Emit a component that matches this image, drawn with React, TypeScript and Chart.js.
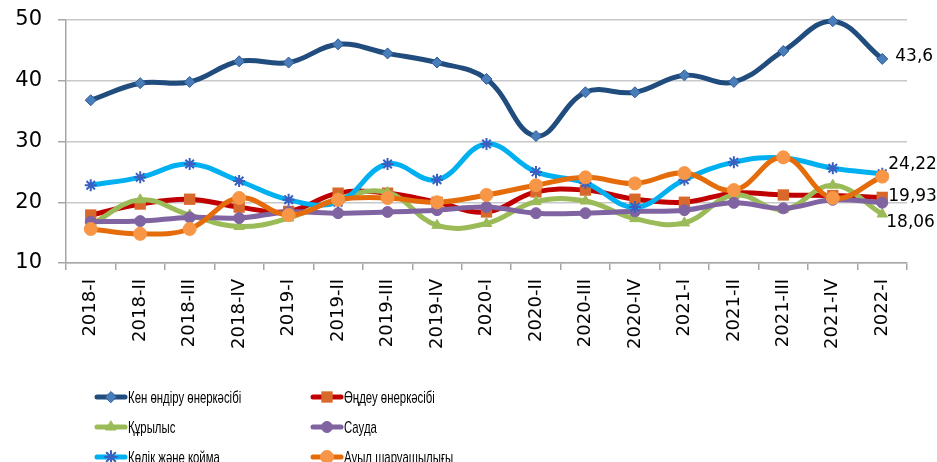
import React, { useEffect, useRef } from 'react';
import { Chart, registerables } from 'chart.js';
import { drawPoint } from 'chart.js/helpers';

Chart.register(...registerables);

const categories = [
  '2018-I', '2018-II', '2018-III', '2018-IV',
  '2019-I', '2019-II', '2019-III', '2019-IV',
  '2020-I', '2020-II', '2020-III', '2020-IV',
  '2021-I', '2021-II', '2021-III', '2021-IV',
  '2022-I',
];

const seriesNames = [
  'Кен өндіру өнеркәсібі',
  'Өңдеу өнеркәсібі',
  'Құрылыс',
  'Сауда',
  'Көлік және қойма',
  'Ауыл шаруашылығы',
];

const kenValues = [36.8, 39.6, 39.8, 43.2, 43.0, 46.0, 44.5, 43.0, 40.3, 30.9, 38.1, 38.1, 40.9, 39.8, 44.9, 49.8, 43.6];
const ondeuValues = [17.9, 19.7, 20.5, 19.2, 18.5, 21.5, 21.5, 20.0, 18.4, 21.7, 22.0, 20.5, 20.0, 21.5, 21.2, 21.1, 20.8];
const qurylysValues = [16.3, 20.4, 17.9, 16.0, 17.4, 20.6, 21.6, 16.2, 16.5, 20.1, 20.2, 17.3, 16.6, 21.2, 18.8, 22.8, 18.06];
const saudaValues = [16.8, 16.9, 17.5, 17.4, 18.4, 18.2, 18.4, 18.7, 19.2, 18.2, 18.2, 18.5, 18.7, 19.9, 19.0, 20.4, 19.93];
const kolikValues = [22.8, 24.1, 26.3, 23.5, 20.4, 20.0, 26.3, 23.7, 29.6, 25.0, 23.2, 19.2, 23.7, 26.6, 27.3, 25.6, 24.7];
const auylValues = [15.6, 14.8, 15.6, 20.7, 17.9, 20.4, 20.7, 20.0, 21.2, 22.8, 24.1, 23.1, 24.8, 22.0, 27.4, 20.7, 24.22];

const yTicks = [10, 20, 30, 40, 50];

const seriesValues = [kenValues, ondeuValues, qurylysValues, saudaValues, kolikValues, auylValues];

const seriesStyles = [
  { line: '#214C7E', fill: '#4A7EBB', border: '#2E5C94', point: 'rectRot', radius: 5.5, bw: 1 },
  { line: '#C00000', fill: '#D8692A', border: '#D8692A', point: 'rect', radius: 8, bw: 0 },
  { line: '#9BBB59', fill: '#9BBB59', border: '#9BBB59', point: 'triangle', radius: 6, bw: 1 },
  { line: '#8064A2', fill: '#8064A2', border: '#8064A2', point: 'circle', radius: 5.5, bw: 1 },
  { line: '#00B0F0', fill: '#3A5FC0', border: '#3A5FC0', point: 'star', radius: 6, bw: 2 },
  { line: '#E46C0A', fill: '#F79646', border: '#F79646', point: 'circle', radius: 6.5, bw: 1 },
];

// end-of-series value labels: dataset index and small nudge
const endLabels = [
  { ds: 0, dx: 13, dy: -2 },
  { ds: 5, dx: 6, dy: -12 },
  { ds: 3, dx: 6, dy: -6 },
  { ds: 2, dx: 4, dy: 9 },
];

const fmt = (v: number) => String(v).replace('.', ',');

const endLabelPlugin = {
  id: 'endLabels',
  afterDatasetsDraw(chart: any) {
    const ctx = chart.ctx;
    ctx.save();
    ctx.font = '17px "DejaVu Sans"';
    ctx.fillStyle = '#000';
    ctx.textAlign = 'left';
    ctx.textBaseline = 'middle';
    endLabels.forEach((l) => {
      const meta = chart.getDatasetMeta(l.ds);
      const last = meta.data.length - 1;
      const pt = meta.data[last];
      const v = chart.data.datasets[l.ds].data[last];
      ctx.fillText(fmt(v), pt.x + l.dx, pt.y + l.dy);
    });
    ctx.restore();
  },
};

const legendPlugin = {
  id: 'gridLegend',
  afterDraw(chart: any) {
    const ctx = chart.ctx;
    const colX = [95, 311];
    const rowY = [397, 427, 457];
    ctx.save();
    seriesNames.forEach((name, i) => {
      const st = seriesStyles[i];
      const x = colX[i % 2];
      const y = rowY[Math.floor(i / 2)];
      ctx.strokeStyle = st.line;
      ctx.lineWidth = 5;
      ctx.lineCap = 'round';
      ctx.beginPath();
      ctx.moveTo(x + 2, y);
      ctx.lineTo(x + 30, y);
      ctx.stroke();
      ctx.fillStyle = st.fill;
      ctx.strokeStyle = st.border;
      ctx.lineWidth = st.bw;
      drawPoint(ctx, { pointStyle: st.point, radius: st.radius, rotation: 0, borderWidth: st.bw }, x + 16, y);
      ctx.fillStyle = '#000';
      ctx.font = '17px "Liberation Sans"';
      ctx.textAlign = 'left';
      ctx.textBaseline = 'middle';
      const w = ctx.measureText(name).width;
      ctx.fillText(name, x + 33, y + 1, w * 0.67);
    });
    ctx.restore();
  },
};

export default function App() {
  const ref = useRef<HTMLCanvasElement>(null);

  useEffect(() => {
    if (!ref.current) return;
    const datasets = seriesNames.map((name, i) => {
      const st = seriesStyles[i];
      return {
        label: name,
        data: seriesValues[i],
        borderColor: st.line,
        borderWidth: 5,
        backgroundColor: st.fill,
        pointStyle: st.point,
        pointRadius: st.radius,
        pointBackgroundColor: st.fill,
        pointBorderColor: st.border,
        pointBorderWidth: st.bw,
        tension: 0.4,
        fill: false,
        order: seriesNames.length - i,
        clip: false as any,
      };
    });

    const chart = new Chart(ref.current, {
      type: 'line',
      data: { labels: categories, datasets },
      plugins: [endLabelPlugin, legendPlugin],
      options: {
        animation: false,
        responsive: false,
        layout: { padding: { top: 20, right: 30, bottom: 104, left: 0 } },
        plugins: {
          legend: { display: false },
          tooltip: { enabled: false },
        },
        scales: {
          x: {
            offset: true,
            grid: {
              offset: true,
              drawOnChartArea: false,
              drawTicks: true,
              tickLength: 7,
              color: '#A6A6A6',
              lineWidth: 1.5,
            },
            border: { display: true, color: '#A6A6A6', width: 1.5 },
            ticks: {
              autoSkip: false,
              maxRotation: 90,
              minRotation: 90,
              padding: 9,
              color: '#000',
              font: { family: 'DejaVu Sans', size: 18 },
            },
            afterFit: (s: any) => { s.height = 95; },
          },
          y: {
            min: 10,
            max: 50,
            afterBuildTicks: (s: any) => { s.ticks = yTicks.map((v) => ({ value: v })); },
            grid: {
              color: '#C8C8C8',
              lineWidth: 1.5,
              tickLength: 8,
              tickColor: '#A6A6A6',
            },
            border: { display: true, color: '#A6A6A6', width: 1.5 },
            ticks: {
              padding: 16,
              color: '#000',
              font: { family: 'DejaVu Sans', size: 21 },
            },
            afterFit: (s: any) => { s.width = 66; s.paddingTop = 12; s.paddingBottom = 12; },
          },
        },
      },
    });
    return () => chart.destroy();
  }, []);

  return (
    <div style={{ position: 'absolute', left: 0, top: 0, width: 937, height: 462, background: '#fff' }}>
      <canvas ref={ref} width={937} height={462} />
    </div>
  );
}
